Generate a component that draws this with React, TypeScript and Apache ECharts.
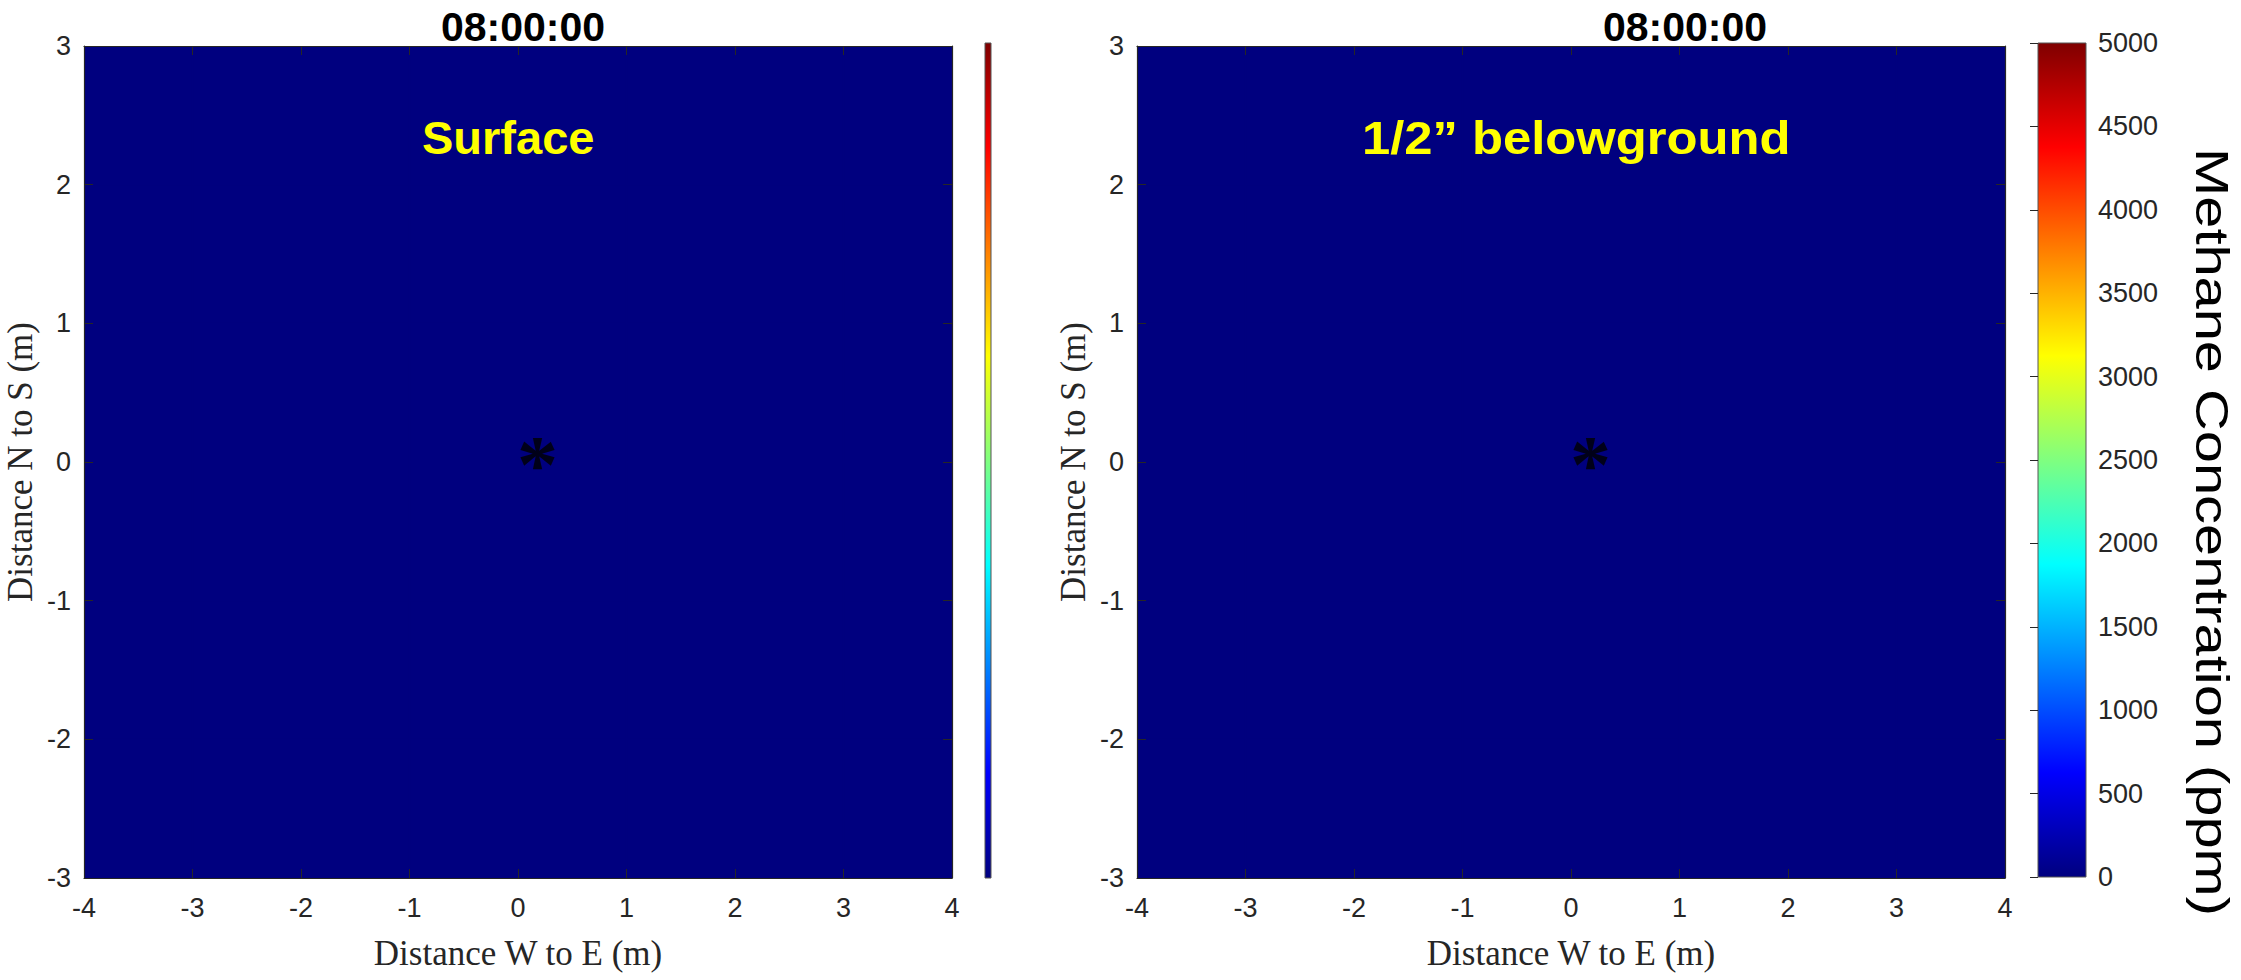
import React, { useEffect, useRef } from "react";
import * as echarts from "echarts";

// ---- data ----
const xEdges = [-4, -3, -2, -1, 0, 1, 2, 3, 4];
const yEdges = [-3, -2, -1, 0, 1, 2, 3];
// rows from y=-3 (bottom) to y=3 (top), columns from x=-4 to x=4
const surfaceValues = [
  [0, 0, 0, 0, 0, 0, 0, 0],
  [0, 0, 0, 0, 0, 0, 0, 0],
  [0, 0, 0, 0, 0, 0, 0, 0],
  [0, 0, 0, 0, 0, 0, 0, 0],
  [0, 0, 0, 0, 0, 0, 0, 0],
  [0, 0, 0, 0, 0, 0, 0, 0],
];
const belowgroundValues = [
  [0, 0, 0, 0, 0, 0, 0, 0],
  [0, 0, 0, 0, 0, 0, 0, 0],
  [0, 0, 0, 0, 0, 0, 0, 0],
  [0, 0, 0, 0, 0, 0, 0, 0],
  [0, 0, 0, 0, 0, 0, 0, 0],
  [0, 0, 0, 0, 0, 0, 0, 0],
];
const sourcePoint = [0.18, 0.06];
const colorRange = [0, 5000];
const colorInterval = 500;
const timeLabel = "08:00:00";
const panelLabels = ["Surface", "1/2\u201D belowground"];
const xName = "Distance W to E (m)";
const yName = "Distance N to S (m)";
const cbName = "Methane Concentration (ppm)";

const jet = ["#00007F", "#0000FF", "#00FFFF", "#FFFF00", "#FF0000", "#7F0000"];
const jetStops = [0, 0.125, 0.375, 0.625, 0.875, 1];

function buildCells(values: number[][]) {
  const cells: number[][] = [];
  for (let r = 0; r < yEdges.length - 1; r++) {
    for (let c = 0; c < xEdges.length - 1; c++) {
      cells.push([xEdges[c], xEdges[c + 1], yEdges[r], yEdges[r + 1], values[r][c]]);
    }
  }
  return cells;
}

const TICK = "#262626";
const SANS = "Liberation Sans";
const SERIF = "Liberation Serif";

export default function App() {
  const ref = useRef<HTMLDivElement>(null);
  useEffect(() => {
    document.body.style.margin = "0";
    if (!ref.current) return;
    const chart = echarts.init(ref.current, undefined, { renderer: "svg" });

    const plotGrids = [
      { left: 84, top: 46, width: 868, height: 832 },
      { left: 1137, top: 46, width: 868, height: 832 },
    ];
    const cbGrids = [
      { left: 985, top: 43, width: 6, height: 835 },
      { left: 2038, top: 43, width: 48, height: 834 },
    ];
    const titleCenters = [518, 1680];

    const xAxes: any[] = [];
    const yAxes: any[] = [];
    plotGrids.forEach((g, i) => {
      const base = {
        type: "value",
        gridIndex: i,
        min: xEdges[0],
        max: xEdges[xEdges.length - 1],
        interval: 1,
        z: 10,
        splitLine: { show: false },
        axisLine: { show: true, onZero: false, lineStyle: { color: TICK, width: 1.2 } },
        axisTick: { show: true, inside: true, length: 9, lineStyle: { color: TICK } },
      };
      xAxes.push({
        ...base,
        position: "bottom",
        name: xName,
        nameLocation: "middle",
        nameGap: 58,
        nameTextStyle: { fontFamily: SERIF, fontSize: 35, color: TICK },
        axisLabel: { show: true, fontFamily: SANS, fontSize: 27, color: TICK, margin: 16 },
      });
      xAxes.push({ ...base, position: "top", axisLabel: { show: false } });
      const ybase = {
        type: "value",
        gridIndex: i,
        min: yEdges[0],
        max: yEdges[yEdges.length - 1],
        interval: 1,
        z: 10,
        splitLine: { show: false },
        axisLine: { show: true, onZero: false, lineStyle: { color: TICK, width: 1.2 } },
        axisTick: { show: true, inside: true, length: 9, lineStyle: { color: TICK } },
      };
      yAxes.push({
        ...ybase,
        position: "left",
        name: yName,
        nameLocation: "middle",
        nameGap: 46,
        nameRotate: 90,
        nameTextStyle: { fontFamily: SERIF, fontSize: 35, color: TICK },
        axisLabel: { show: true, fontFamily: SANS, fontSize: 27, color: TICK, margin: 13 },
      });
      yAxes.push({ ...ybase, position: "right", axisLabel: { show: false } });
    });
    cbGrids.forEach((g, i) => {
      xAxes.push({ type: "value", gridIndex: 2 + i, min: 0, max: 1, show: false });
      yAxes.push({
        type: "value",
        gridIndex: 2 + i,
        min: colorRange[0],
        max: colorRange[1],
        interval: colorInterval,
        position: "right",
        z: 10,
        show: i === 1,
        splitLine: { show: false },
        axisLine: { show: false },
        axisTick: { show: true, inside: true, length: 8, lineStyle: { color: TICK } },
        axisLabel: {
          show: true,
          fontFamily: SANS,
          fontSize: 27,
          color: TICK,
          margin: 12,
          formatter: (v: number) => String(v),
        },
      });
    });

    const cellRender = (params: any, api: any) => {
      const p0 = api.coord([api.value(0), api.value(3)]);
      const p1 = api.coord([api.value(1), api.value(2)]);
      const c = api.visual("color");
      return {
        type: "rect",
        shape: { x: p0[0], y: p0[1], width: p1[0] - p0[0], height: p1[1] - p0[1] },
        style: { fill: c, stroke: c, lineWidth: 2 },
      };
    };

    const cbRender = (params: any, api: any) => {
      const p0 = api.coord([0, colorRange[1]]);
      const p1 = api.coord([1, colorRange[0]]);
      return {
        type: "rect",
        shape: { x: p0[0], y: p0[1], width: p1[0] - p0[0], height: p1[1] - p0[1] },
        style: {
          fill: new echarts.graphic.LinearGradient(
            0, 1, 0, 0,
            jet.map((color, k) => ({ offset: jetStops[k], color }))
          ),
          stroke: "#555",
          lineWidth: 1,
        },
      };
    };

    const panels = [surfaceValues, belowgroundValues];
    const series: any[] = [];
    panels.forEach((vals, i) => {
      series.push({
        type: "custom",
        name: panelLabels[i],
        xAxisIndex: i * 2,
        yAxisIndex: i * 2,
        renderItem: cellRender,
        encode: { x: [0, 1], y: [2, 3] },
        data: buildCells(vals),
        clip: true,
        z: 1,
      });
    });
    cbGrids.forEach((g, i) => {
      series.push({
        type: "custom",
        xAxisIndex: 4 + i,
        yAxisIndex: 4 + i,
        renderItem: cbRender,
        data: [[0, colorRange[0], 1, colorRange[1]]],
        encode: { x: [0, 2], y: [1, 3] },
        z: 1,
      });
    });
    panels.forEach((_, i) => {
      series.push({
        type: "scatter",
        xAxisIndex: i * 2,
        yAxisIndex: i * 2,
        data: [sourcePoint],
        symbol: "circle",
        symbolSize: 1,
        itemStyle: { color: "rgba(0,0,0,0)" },
        z: 5,
        label: {
          show: true,
          position: "inside",
          formatter: "*",
          fontFamily: SERIF,
          fontWeight: "bold",
          fontSize: 82,
          color: "#000",
          offset: [0, 11],
        },
      });
    });

    const option: any = {
      animation: false,
      backgroundColor: "#fff",
      title: titleCenters.map((cx) => ({
        text: timeLabel,
        left: cx,
        top: 1,
        textAlign: "center",
        textStyle: { fontFamily: SANS, fontWeight: "bold", fontSize: 41, color: "#000" },
      })),
      grid: [...plotGrids, ...cbGrids].map((g) => ({ ...g, containLabel: false })),
      xAxis: xAxes,
      yAxis: yAxes,
      visualMap: {
        type: "continuous",
        show: false,
        min: colorRange[0],
        max: colorRange[1],
        dimension: 4,
        seriesIndex: [0, 1],
        inRange: { color: jet },
      },
      graphic: [
        ...panelLabels.map((t, i) => ({
          type: "text",
          x: i === 0 ? 422 : 1362,
          y: 114,
          scaleX: i === 0 ? 1 : 1.08,
          z: 20,
          style: {
            text: t,
            fill: "#FFFF00",
            fontFamily: SANS,
            fontWeight: "bold",
            fontSize: 47,
            verticalAlign: "top",
          },
        })),
        {
          type: "text",
          x: 2213,
          y: 532,
          rotation: -Math.PI / 2,
          scaleX: 1.23,
          z: 20,
          style: {
            text: cbName,
            fill: "#000",
            fontFamily: SANS,
            fontSize: 47,
            align: "center",
            verticalAlign: "middle",
          },
        },
      ],
      series,
    };
    chart.setOption(option);
    return () => chart.dispose();
  }, []);
  return <div ref={ref} style={{ width: 2241, height: 980 }} />;
}
